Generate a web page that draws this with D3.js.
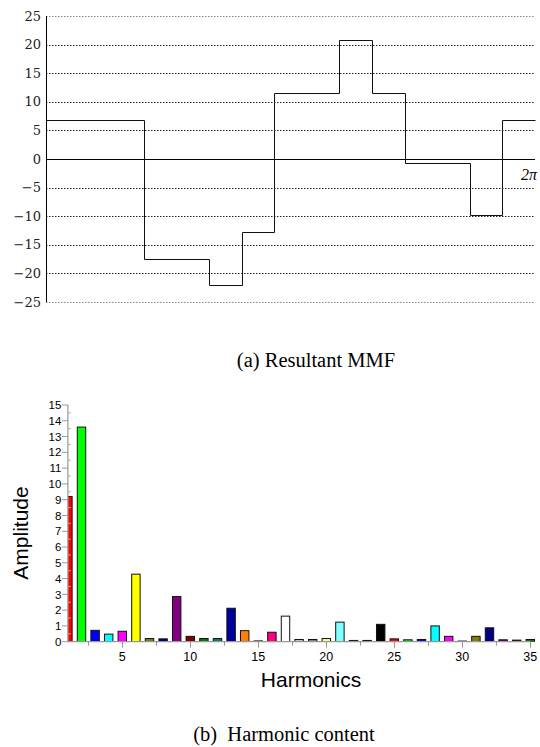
<!DOCTYPE html>
<html lang="en">
<head>
<meta charset="UTF-8">
<title>Resultant MMF and harmonic content</title>
<style>
  body { margin: 0; background: #fff; }
  svg { display: block; }
</style>
</head>
<body>
<script src="https://d3js.org/d3.v7.min.js"></script>
<script>
/* global d3 */
// (a) resultant MMF: step edges in slots (15 slots = 2pi) and level of each step
var mmfEdges = [0, 3, 5, 6, 7, 9, 10, 11, 13, 14, 15];
var mmfLevels = [6.8, -17.4, -22, -12.7, 11.5, 20.8, 11.5, -0.7, -9.8, 6.8];
var mmfTicks = [25, 20, 15, 10, 5, 0, -5, -10, -15, -20, -25];

// (b) harmonic amplitudes, order 1..35
var harmonics = d3.range(1, 36);
var amplitude = [9.2, 13.6, 0.72, 0.48, 0.66, 4.28, 0.2, 0.18, 2.86, 0.34,
  0.2, 0.2, 2.12, 0.7, 0.05, 0.6, 1.62, 0.14, 0.14, 0.2,
  1.24, 0.08, 0.08, 1.1, 0.18, 0.12, 0.14, 1.0, 0.34, 0.04,
  0.34, 0.88, 0.12, 0.1, 0.14];
var ampTicks = d3.range(0, 16);
var harmTicks = [5, 10, 15, 20, 25, 30, 35];

var palette = ["#ff0000", "#00ff00", "#0000ff", "#00ffff", "#ff00ff", "#ffff00",
  "#808000", "#000080", "#800080", "#800000", "#008000", "#008080",
  "#0000a0", "#ff8000", "#a0a0a0", "#ff0080", "#ffffff", "#c0c0c0",
  "#808080", "#ffff80", "#80ffff", "#ff80ff", "#404040", "#000000"];

var svg = d3.select("body").append("svg")
  .attr("width", 540)
  .attr("height", 747);

// ---------- top chart ----------
var x1 = d3.scaleLinear().domain([0, 15]).range([46, 535]);
var y1 = d3.scaleLinear().domain([-25, 25]).range([302, 16]);

var mmfChart = svg.append("g");

mmfChart.selectAll(".grid")
  .data(mmfTicks.filter(function(d) { return d !== 0; }))
  .enter().append("line")
  .attr("x1", x1(0)).attr("x2", x1(15))
  .attr("y1", function(d) { return Math.round(y1(d)) + 0.5; })
  .attr("y2", function(d) { return Math.round(y1(d)) + 0.5; })
  .attr("stroke", function(d) { return Math.abs(d) === 25 ? "#888" : "#222"; })
  .attr("stroke-width", 1)
  .attr("stroke-dasharray", "1.5,1.5");

mmfChart.append("line")
  .attr("x1", x1(0)).attr("x2", x1(15))
  .attr("y1", Math.round(y1(0)) + 0.5).attr("y2", Math.round(y1(0)) + 0.5)
  .attr("stroke", "#000");

mmfChart.append("line")
  .attr("x1", x1(0) + 0.5).attr("x2", x1(0) + 0.5)
  .attr("y1", y1(25)).attr("y2", y1(-25))
  .attr("stroke", "#000");

mmfChart.selectAll(".ylab")
  .data(mmfTicks)
  .enter().append("text")
  .attr("x", 41)
  .attr("y", function(d) { return y1(d); })
  .attr("dy", "0.36em")
  .attr("text-anchor", "end")
  .attr("font-family", "'DejaVu Serif', serif")
  .attr("font-size", "13px")
  .attr("fill", "#222")
  .text(function(d) { return d < 0 ? "\u2212" + (-d) : d; });

var stepPts = mmfLevels.map(function(v, i) { return [mmfEdges[i], v]; });
stepPts.push([15, mmfLevels[mmfLevels.length - 1]]);

mmfChart.append("path")
  .datum(stepPts)
  .attr("fill", "none")
  .attr("stroke", "#111")
  .attr("stroke-width", 1)
  .attr("d", d3.line()
    .x(function(d) { return Math.round(x1(d[0])) + 0.5; })
    .y(function(d) { return Math.round(y1(d[1])) + 0.5; })
    .curve(d3.curveStepAfter));

mmfChart.append("text")
  .attr("x", 521).attr("y", 180)
  .attr("font-family", "'Liberation Serif', serif")
  .attr("font-style", "italic")
  .attr("font-size", "16px")
  .text("2\u03c0");

svg.append("text")
  .attr("x", 316).attr("y", 367)
  .attr("text-anchor", "middle")
  .attr("font-family", "'Liberation Serif', serif")
  .attr("font-size", "20.5px")
  .text("(a) Resultant MMF");

// ---------- bottom chart ----------
var x2 = d3.scaleLinear().domain([1, 35]).range([67.9, 530.3]);
var y2 = d3.scaleLinear().domain([0, 15]).range([641.7, 405]);
var barW = 0.62 * (x2(2) - x2(1));

var harmChart = svg.append("g");

harmChart.append("clipPath").attr("id", "plotclip")
  .append("rect")
  .attr("x", x2(1)).attr("y", 380)
  .attr("width", 540 - x2(1)).attr("height", y2(0) - 380);

harmChart.append("g")
  .attr("clip-path", "url(#plotclip)")
  .selectAll("rect")
  .data(harmonics)
  .enter().append("rect")
  .attr("x", function(h) { return x2(h) - barW / 2; })
  .attr("y", function(h, i) { return y2(amplitude[i]); })
  .attr("width", barW)
  .attr("height", function(h, i) { return y2(0) - y2(amplitude[i]); })
  .attr("fill", function(h) { return palette[(h - 1) % palette.length]; })
  .attr("stroke", "#111")
  .attr("stroke-width", 1);

var xg = harmChart.append("g")
  .attr("transform", "translate(0," + y2(0) + ")");
xg.append("line")
  .attr("x1", x2(1)).attr("x2", x2(35))
  .attr("stroke", "#999").attr("stroke-width", 1.2);
xg.selectAll(".xt")
  .data(d3.range(2.5, 36, 2.5))
  .enter().append("line")
  .attr("x1", function(d) { return Math.round(x2(d)) + 0.5; })
  .attr("x2", function(d) { return Math.round(x2(d)) + 0.5; })
  .attr("y1", 0)
  .attr("y2", function(d) { return d % 5 === 0 ? 6 : 4; })
  .attr("stroke", "#999");
xg.selectAll(".xl")
  .data(harmTicks)
  .enter().append("text")
  .attr("x", function(d) { return x2(d); })
  .attr("y", 19)
  .attr("text-anchor", "middle")
  .attr("font-family", "'Liberation Sans', Arial, sans-serif")
  .attr("font-size", "12.5px")
  .text(function(d) { return d; });

var yg = harmChart.append("g")
  .attr("transform", "translate(" + x2(1) + ",0)");
yg.append("line")
  .attr("y1", y2(15)).attr("y2", y2(0))
  .attr("stroke", "#999").attr("stroke-width", 1.2);
yg.selectAll(".yt")
  .data(ampTicks)
  .enter().append("line")
  .attr("x1", -6).attr("x2", 0)
  .attr("y1", function(d) { return y2(d); })
  .attr("y2", function(d) { return y2(d); })
  .attr("stroke", "#999");
yg.selectAll(".ym")
  .data(d3.range(0.5, 15, 1))
  .enter().append("line")
  .attr("x1", 0).attr("x2", 3)
  .attr("y1", function(d) { return y2(d); })
  .attr("y2", function(d) { return y2(d); })
  .attr("stroke", "#aaa");
yg.selectAll(".yl")
  .data(ampTicks)
  .enter().append("text")
  .attr("x", -6.5)
  .attr("y", function(d) { return y2(d); })
  .attr("dy", "0.36em")
  .attr("text-anchor", "end")
  .attr("font-family", "'Liberation Sans', Arial, sans-serif")
  .attr("font-size", "11.5px")
  .text(function(d) { return d; });

harmChart.append("text")
  .attr("transform", "translate(28,533) rotate(-90)")
  .attr("text-anchor", "middle")
  .attr("font-family", "'Liberation Sans', Arial, sans-serif")
  .attr("font-size", "21px")
  .text("Amplitude");

harmChart.append("text")
  .attr("x", 311).attr("y", 687)
  .attr("text-anchor", "middle")
  .attr("font-family", "'Liberation Sans', Arial, sans-serif")
  .attr("font-size", "21px")
  .text("Harmonics");

svg.append("text")
  .attr("x", 284).attr("y", 741)
  .attr("text-anchor", "middle")
  .attr("font-family", "'Liberation Serif', serif")
  .attr("font-size", "20.5px")
  .style("white-space", "pre")
  .text("(b)  Harmonic content");
</script>
</body>
</html>
